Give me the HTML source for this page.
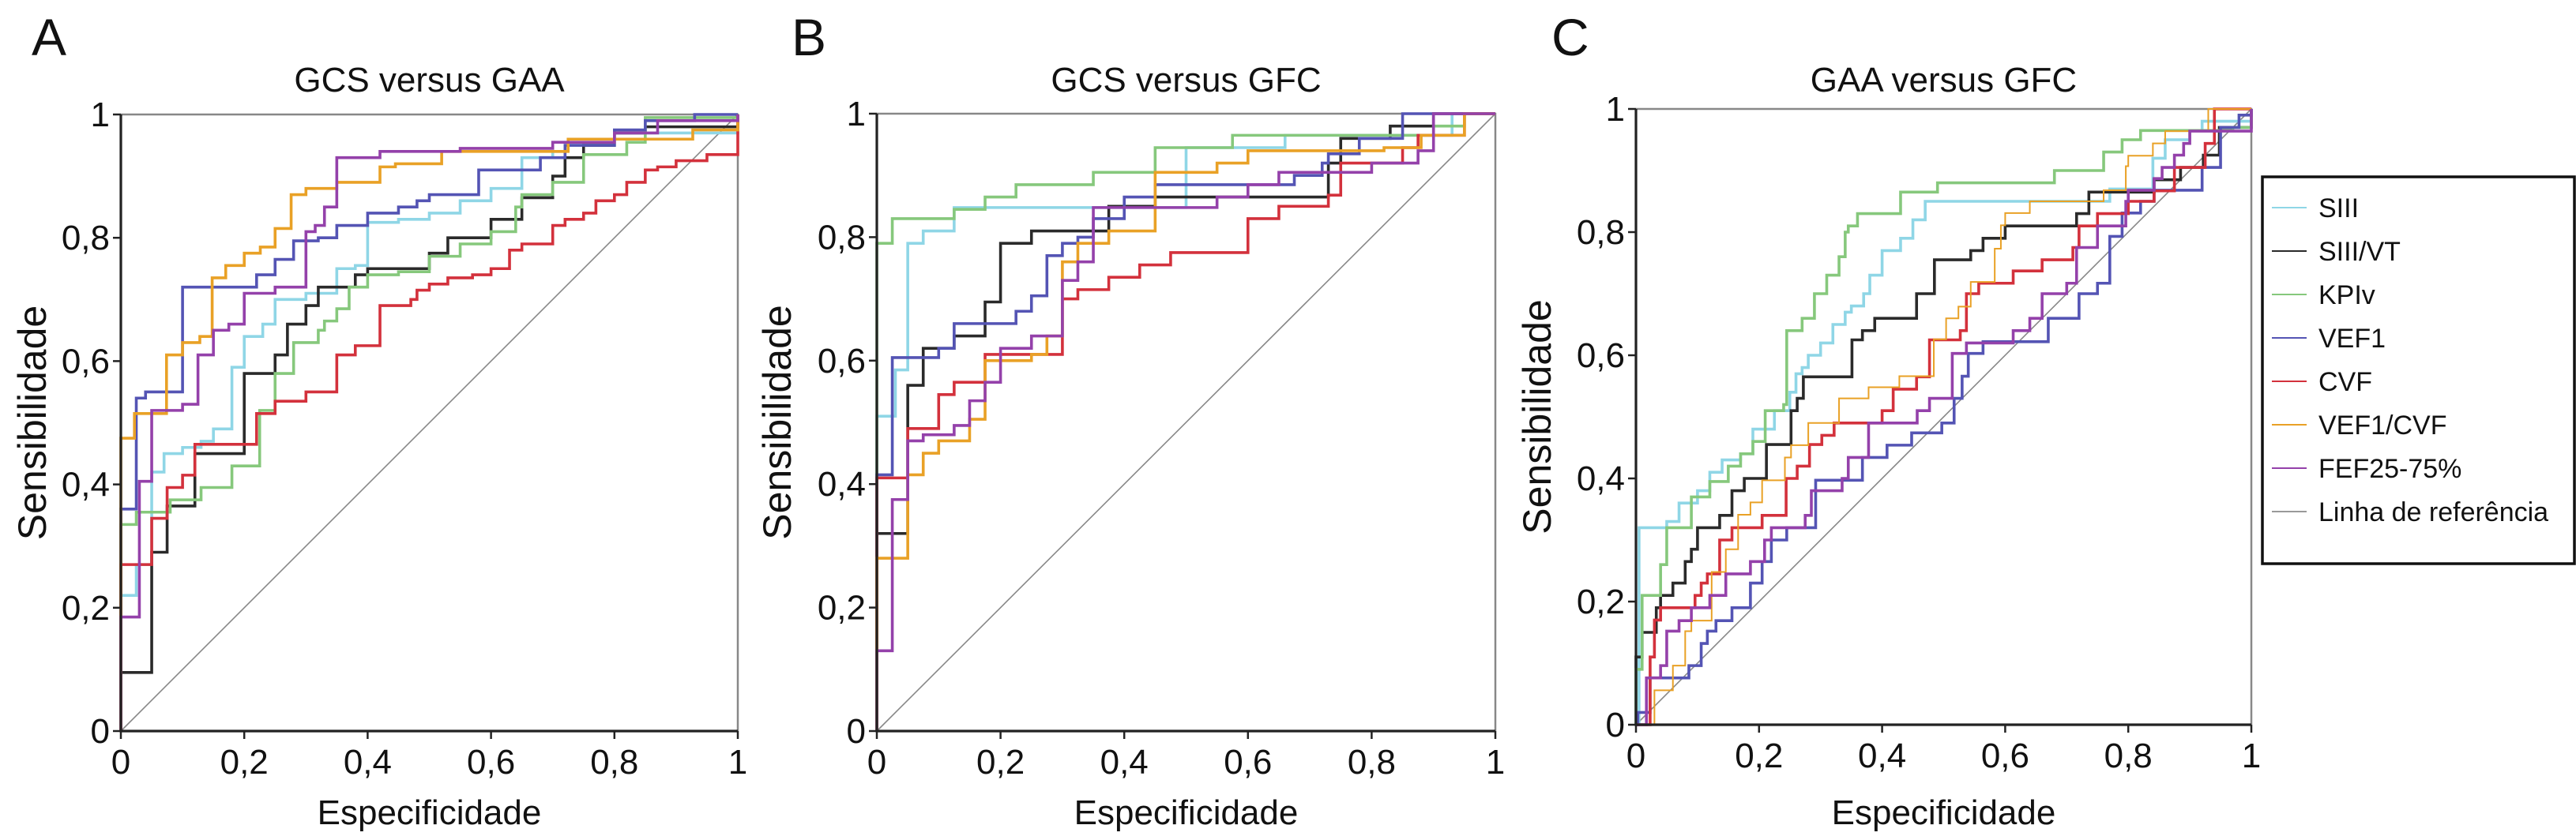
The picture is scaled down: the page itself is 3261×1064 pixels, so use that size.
<!DOCTYPE html>
<html><head><meta charset="utf-8"><style>
html,body{margin:0;padding:0;background:#fff}
svg{display:block}
text{font-family:"Liberation Sans",Arial,sans-serif;fill:#111}
</style></head><body>
<svg id="chart" width="3261" height="1064" viewBox="0 0 3261 1064" xmlns="http://www.w3.org/2000/svg"></svg>
<script>
const NS='http://www.w3.org/2000/svg';
const svg=document.getElementById('chart');
const seriesNames=['SIII','SIII/VT','KPIv','VEF1','CVF','VEF1/CVF','FEF25-75%'];
const seriesColors=['#8fd6e6','#2a2a2a','#86c87c','#5454b4','#d3313c','#e9a126','#9441aa'];
const tickValues=[0,0.2,0.4,0.6,0.8,1];
const tickLabels=['0','0,2','0,4','0,6','0,8','1'];
const panelTitles=['GCS versus GAA','GCS versus GFC','GAA versus GFC'];
const panelLetters=['A','B','C'];
// panel A
const A_SIII=[[0,0],[0,0.22],[0.025,0.27],[0.05,0.42],[0.07,0.45],[0.1,0.46],[0.13,0.47],[0.15,0.49],[0.18,0.59],[0.2,0.64],[0.23,0.66],[0.25,0.70],[0.3,0.71],[0.35,0.75],[0.38,0.755],[0.4,0.825],[0.45,0.83],[0.5,0.84],[0.55,0.86],[0.6,0.88],[0.65,0.93],[0.7,0.94],[0.72,0.95],[0.8,0.97],[1,1]];
const A_SIIIVT=[[0,0],[0,0.095],[0.05,0.29],[0.075,0.365],[0.12,0.45],[0.2,0.58],[0.25,0.61],[0.27,0.66],[0.3,0.69],[0.32,0.72],[0.38,0.74],[0.4,0.75],[0.5,0.775],[0.53,0.80],[0.6,0.83],[0.65,0.865],[0.7,0.90],[0.72,0.93],[0.75,0.95],[0.8,0.97],[0.85,0.98],[1,1]];
const A_KPIv=[[0,0],[0,0.335],[0.025,0.355],[0.08,0.375],[0.13,0.395],[0.18,0.43],[0.225,0.52],[0.25,0.58],[0.28,0.63],[0.32,0.65],[0.33,0.665],[0.35,0.685],[0.37,0.72],[0.4,0.74],[0.45,0.745],[0.5,0.77],[0.55,0.79],[0.6,0.81],[0.64,0.85],[0.65,0.87],[0.7,0.89],[0.75,0.935],[0.82,0.955],[0.85,0.995],[1,1]];
const A_VEF1=[[0,0],[0,0.36],[0.025,0.54],[0.04,0.55],[0.1,0.72],[0.22,0.74],[0.25,0.765],[0.28,0.795],[0.32,0.80],[0.35,0.82],[0.4,0.84],[0.45,0.85],[0.48,0.86],[0.5,0.87],[0.58,0.91],[0.68,0.93],[0.72,0.95],[0.8,0.975],[0.85,0.99],[0.93,1],[1,1]];
const A_CVF=[[0,0],[0,0.27],[0.05,0.345],[0.075,0.395],[0.1,0.415],[0.12,0.465],[0.22,0.515],[0.25,0.535],[0.3,0.55],[0.35,0.61],[0.38,0.625],[0.42,0.69],[0.47,0.70],[0.48,0.715],[0.5,0.725],[0.53,0.735],[0.57,0.74],[0.6,0.75],[0.63,0.78],[0.65,0.79],[0.7,0.82],[0.72,0.83],[0.75,0.84],[0.77,0.86],[0.8,0.87],[0.82,0.89],[0.85,0.91],[0.87,0.915],[0.9,0.925],[0.95,0.935],[1,0.95],[1,1]];
const A_VEF1CVF=[[0,0],[0,0.475],[0.022,0.515],[0.074,0.61],[0.10,0.63],[0.128,0.64],[0.148,0.735],[0.17,0.755],[0.2,0.775],[0.226,0.785],[0.25,0.815],[0.276,0.87],[0.3,0.88],[0.35,0.89],[0.42,0.915],[0.445,0.92],[0.52,0.94],[0.725,0.96],[0.927,0.975],[1,1]];
const A_FEF=[[0,0],[0,0.185],[0.03,0.405],[0.05,0.52],[0.1,0.53],[0.125,0.61],[0.15,0.65],[0.175,0.66],[0.2,0.71],[0.25,0.72],[0.3,0.81],[0.315,0.82],[0.33,0.85],[0.35,0.93],[0.42,0.94],[0.55,0.945],[0.7,0.955],[0.8,0.97],[0.87,0.99],[1,1]];
// panel B
const B_SIII=[[0,0],[0,0.51],[0.03,0.585],[0.05,0.79],[0.075,0.81],[0.125,0.848],[0.5,0.945],[0.66,0.965],[0.93,1],[1,1]];
const B_SIIIVT=[[0,0],[0,0.32],[0.05,0.56],[0.075,0.62],[0.125,0.64],[0.175,0.695],[0.2,0.79],[0.25,0.81],[0.375,0.85],[0.45,0.865],[0.73,0.92],[0.75,0.96],[0.83,0.98],[0.9,1],[1,1]];
const B_KPIv=[[0,0],[0,0.79],[0.025,0.83],[0.125,0.845],[0.175,0.865],[0.225,0.885],[0.35,0.905],[0.45,0.945],[0.575,0.965],[0.9,0.98],[0.95,1],[1,1]];
const B_VEF1=[[0,0],[0,0.415],[0.025,0.605],[0.1,0.62],[0.125,0.66],[0.225,0.68],[0.25,0.705],[0.275,0.77],[0.3,0.79],[0.325,0.80],[0.35,0.83],[0.4,0.865],[0.45,0.885],[0.675,0.90],[0.72,0.92],[0.73,0.935],[0.78,0.96],[0.85,0.98],[0.85,1],[1,1]];
const B_CVF=[[0,0],[0,0.41],[0.05,0.49],[0.1,0.545],[0.125,0.565],[0.175,0.61],[0.3,0.70],[0.325,0.715],[0.375,0.735],[0.425,0.755],[0.475,0.775],[0.6,0.83],[0.65,0.85],[0.73,0.868],[0.75,0.92],[0.85,0.945],[0.875,0.965],[0.95,1],[1,1]];
const B_VEF1CVF=[[0,0],[0,0.28],[0.05,0.415],[0.075,0.45],[0.1,0.47],[0.15,0.505],[0.175,0.6],[0.25,0.61],[0.275,0.64],[0.3,0.76],[0.325,0.79],[0.375,0.81],[0.45,0.83],[0.45,0.905],[0.55,0.92],[0.6,0.94],[0.82,0.945],[0.88,0.965],[0.95,1],[1,1]];
const B_FEF=[[0,0],[0,0.13],[0.025,0.375],[0.05,0.47],[0.075,0.48],[0.125,0.495],[0.15,0.535],[0.175,0.565],[0.2,0.62],[0.25,0.64],[0.3,0.73],[0.325,0.76],[0.35,0.848],[0.55,0.865],[0.6,0.885],[0.65,0.905],[0.8,0.92],[0.875,0.94],[0.9,0.965],[0.9,1],[1,1]];
// panel C
const C_SIII=[[0,0],[0.005,0.32],[0.05,0.33],[0.07,0.36],[0.1,0.38],[0.12,0.41],[0.14,0.43],[0.17,0.44],[0.19,0.48],[0.225,0.51],[0.25,0.54],[0.26,0.57],[0.27,0.58],[0.28,0.6],[0.3,0.62],[0.32,0.65],[0.34,0.67],[0.35,0.68],[0.37,0.70],[0.38,0.73],[0.4,0.77],[0.43,0.79],[0.45,0.82],[0.47,0.85],[0.77,0.87],[0.84,0.92],[0.86,0.95],[0.9,0.965],[0.92,0.98],[1,1]];
const C_SIIIVT=[[0,0],[0,0.11],[0.01,0.15],[0.033,0.19],[0.04,0.21],[0.06,0.23],[0.08,0.265],[0.09,0.285],[0.1,0.32],[0.136,0.34],[0.156,0.38],[0.176,0.40],[0.212,0.455],[0.252,0.51],[0.262,0.53],[0.272,0.565],[0.351,0.625],[0.368,0.64],[0.388,0.66],[0.456,0.70],[0.485,0.755],[0.544,0.77],[0.564,0.79],[0.6,0.81],[0.716,0.83],[0.736,0.865],[0.842,0.885],[0.885,0.905],[0.922,0.925],[0.948,0.97],[1,1]];
const C_KPIv=[[0,0],[0,0.09],[0.01,0.21],[0.04,0.26],[0.05,0.32],[0.09,0.37],[0.12,0.395],[0.15,0.42],[0.17,0.44],[0.19,0.46],[0.21,0.51],[0.24,0.52],[0.245,0.64],[0.27,0.66],[0.29,0.70],[0.31,0.73],[0.33,0.76],[0.34,0.80],[0.345,0.81],[0.36,0.83],[0.43,0.865],[0.49,0.88],[0.68,0.90],[0.76,0.93],[0.79,0.95],[0.82,0.965],[0.97,0.97],[1,1]];
const C_VEF1=[[0,0],[0.003,0.02],[0.023,0.076],[0.086,0.096],[0.106,0.132],[0.116,0.152],[0.13,0.169],[0.156,0.19],[0.186,0.23],[0.205,0.265],[0.22,0.30],[0.245,0.32],[0.292,0.397],[0.368,0.434],[0.408,0.454],[0.448,0.474],[0.497,0.49],[0.517,0.53],[0.53,0.566],[0.54,0.603],[0.564,0.622],[0.67,0.66],[0.72,0.70],[0.75,0.717],[0.77,0.793],[0.79,0.831],[0.82,0.85],[0.842,0.868],[0.92,0.905],[0.95,0.97],[0.98,0.99],[1,1]];
const C_CVF=[[0,0],[0.023,0.11],[0.03,0.17],[0.04,0.19],[0.096,0.21],[0.106,0.23],[0.116,0.245],[0.136,0.30],[0.156,0.32],[0.205,0.34],[0.244,0.40],[0.262,0.42],[0.282,0.455],[0.302,0.47],[0.322,0.49],[0.4,0.51],[0.418,0.545],[0.456,0.565],[0.477,0.625],[0.527,0.64],[0.537,0.70],[0.557,0.717],[0.613,0.737],[0.66,0.755],[0.71,0.775],[0.72,0.81],[0.75,0.83],[0.8,0.85],[0.842,0.867],[0.875,0.905],[0.925,0.944],[0.94,1],[1,1]];
const C_VEF1CVF=[[0,0],[0.03,0.056],[0.06,0.096],[0.08,0.152],[0.09,0.169],[0.123,0.248],[0.146,0.285],[0.166,0.341],[0.186,0.361],[0.205,0.397],[0.242,0.434],[0.252,0.454],[0.28,0.49],[0.33,0.53],[0.378,0.548],[0.428,0.566],[0.484,0.626],[0.504,0.66],[0.524,0.679],[0.544,0.719],[0.583,0.773],[0.593,0.811],[0.6,0.831],[0.64,0.85],[0.76,0.868],[0.796,0.907],[0.8,0.924],[0.84,0.944],[0.86,0.964],[0.93,1],[1,1]];
const C_FEF=[[0,0],[0.017,0.076],[0.04,0.096],[0.05,0.152],[0.07,0.169],[0.09,0.19],[0.12,0.21],[0.146,0.245],[0.186,0.265],[0.209,0.30],[0.22,0.32],[0.275,0.34],[0.285,0.38],[0.335,0.40],[0.345,0.434],[0.378,0.49],[0.457,0.51],[0.477,0.53],[0.514,0.603],[0.537,0.62],[0.613,0.64],[0.64,0.66],[0.66,0.70],[0.7,0.717],[0.716,0.775],[0.75,0.81],[0.796,0.85],[0.8,0.868],[0.842,0.887],[0.855,0.905],[0.875,0.925],[0.89,0.944],[0.9,0.964],[1,1]];

const panelSeries=[
 [A_SIII,A_SIIIVT,A_KPIv,A_VEF1,A_CVF,A_VEF1CVF,A_FEF],
 [B_SIII,B_SIIIVT,B_KPIv,B_VEF1,B_CVF,B_VEF1CVF,B_FEF],
 [C_SIII,C_SIIIVT,C_KPIv,C_VEF1,C_CVF,C_VEF1CVF,C_FEF]];
const panelBoxes=[{x0:153,x1:934,y0:926,y1:145,ylab:40,lx:40},{x0:1110,x1:1893,y0:926,y1:144,ylab:983,lx:1002},{x0:2071,x1:2850,y0:918,y1:138,ylab:1945,lx:1964}];

function el(tag,attrs,parent){const e=document.createElementNS(NS,tag);for(const k in attrs)e.setAttribute(k,attrs[k]);(parent||svg).appendChild(e);return e;}

panelBoxes.forEach((b,pi)=>{
  const g=el('g',{});
  
  
  const sx=v=>b.x0+v*(b.x1-b.x0);
  const sy=v=>b.y0-v*(b.y0-b.y1);
  const cx=(b.x0+b.x1)/2, cy=(b.y0+b.y1)/2;
  const letter=el('text',{x:b.lx,y:70,'font-size':66},g);letter.textContent=panelLetters[pi];
  
  
  const t=el('text',{x:cx,y:116,'font-size':44,'text-anchor':'middle'},g);t.textContent=panelTitles[pi];
  
  
  const fr=el('path',{d:`M${b.x0},${b.y1}H${b.x1}V${b.y0}`,stroke:'#888',fill:'none','stroke-width':2.5},g);
  
  
  const ref=el('line',{x1:sx(0),y1:sy(0),x2:sx(1),y2:sy(1),stroke:'#888','stroke-width':1.6},g);
  
  
  panelSeries[pi].forEach((pts,si)=>{
    let d=`M${sx(pts[0][0])},${sy(pts[0][1])}`;
    for(let i=1;i<pts.length;i++){d+=`H${sx(pts[i][0])}V${sy(pts[i][1])}`;}
    const w=(pi==2&&si==5)?2:3.6;
    const p=el('path',{d:d,stroke:seriesColors[si],fill:'none','stroke-width':w,'stroke-linejoin':'miter'},g);
    
    
  });
  const ax=el('path',{d:`M${b.x0},${b.y1}V${b.y0}H${b.x1}`,stroke:'#222',fill:'none','stroke-width':3.2},g);
  
  
  tickValues.forEach((v,i)=>{
    el('line',{x1:b.x0-10,x2:b.x0,y1:sy(v),y2:sy(v),stroke:'#222','stroke-width':2.5},g);
    el('line',{x1:sx(v),x2:sx(v),y1:b.y0,y2:b.y0+10,stroke:'#222','stroke-width':2.5},g);
    const yl=el('text',{x:b.x0-14,y:sy(v)+15,'font-size':44,'text-anchor':'end'},g);yl.textContent=tickLabels[i];
    
    
    const xl=el('text',{x:sx(v),y:b.y0+54,'font-size':44,'text-anchor':'middle'},g);xl.textContent=tickLabels[i];
    
    
  });
  const xt=el('text',{x:cx,y:1044,'font-size':44,'text-anchor':'middle'},g);xt.textContent='Especificidade';
  
  
  const yt=el('text',{x:b.ylab,y:cy,'font-size':50,'text-anchor':'middle',transform:`rotate(-90 ${b.ylab} ${cy})`,dy:18},g);yt.textContent='Sensibilidade';
  
  
});

const lg=el('g',{});


el('rect',{x:2864,y:224,width:395,height:490,fill:'#fff',stroke:'#111','stroke-width':3.5},lg);
const legNames=seriesNames.concat(['Linha de referência']);
const legColors=seriesColors.concat(['#999']);
legNames.forEach((n,i)=>{
  const y=263+i*55;
  const e=el('g',{},lg);
  
  
  el('line',{x1:2876,x2:2920,y1:y,y2:y,stroke:legColors[i],'stroke-width':2},e);
  const t=el('text',{x:2935,y:y+12,'font-size':34},e);t.textContent=n;
});
</script>
</body></html>
